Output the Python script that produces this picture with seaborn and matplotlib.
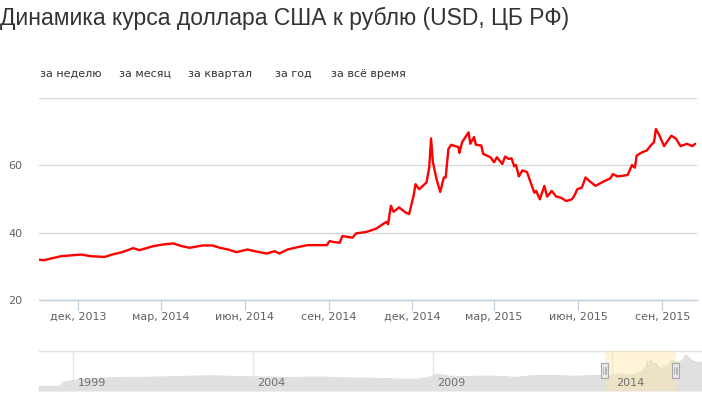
import pandas as pd
import numpy as np
import seaborn as sns
import matplotlib.pyplot as plt
import matplotlib.dates as mdates
from matplotlib.patches import Rectangle

title = "Динамика курса доллара США к рублю (USD, ЦБ РФ)"
buttons = ["за неделю", "за месяц", "за квартал", "за год", "за всё время"]

# main series
dates = ["2013-10-19", "2013-10-24", "2013-11-12", "2013-12-04", "2013-12-15", "2013-12-30",
         "2014-01-07", "2014-01-18", "2014-01-30", "2014-02-06", "2014-02-21", "2014-03-04",
         "2014-03-15", "2014-03-24", "2014-04-02", "2014-04-16", "2014-04-27", "2014-05-05",
         "2014-05-14", "2014-05-23", "2014-06-04", "2014-06-12", "2014-06-25", "2014-07-04",
         "2014-07-09", "2014-07-18", "2014-07-29", "2014-08-09", "2014-08-19", "2014-08-30",
         "2014-09-02", "2014-09-07", "2014-09-13", "2014-09-16", "2014-09-27", "2014-10-01",
         "2014-10-12", "2014-10-23", "2014-11-03", "2014-11-05", "2014-11-08", "2014-11-11",
         "2014-11-17", "2014-11-24", "2014-11-28", "2014-12-03", "2014-12-05", "2014-12-09",
         "2014-12-17", "2014-12-20", "2014-12-22", "2014-12-24", "2014-12-28", "2015-01-01",
         "2015-01-05", "2015-01-07", "2015-01-10", "2015-01-13", "2015-01-21", "2015-01-22",
         "2015-01-25", "2015-02-01", "2015-02-03", "2015-02-07", "2015-02-09", "2015-02-15",
         "2015-02-17", "2015-02-25", "2015-03-01", "2015-03-04", "2015-03-10", "2015-03-13",
         "2015-03-17", "2015-03-20", "2015-03-23", "2015-03-25", "2015-03-28", "2015-04-01",
         "2015-04-06", "2015-04-10", "2015-04-14", "2015-04-16", "2015-04-20", "2015-04-25",
         "2015-04-28", "2015-05-03", "2015-05-08", "2015-05-13", "2015-05-19", "2015-05-25",
         "2015-05-28", "2015-05-31", "2015-06-05", "2015-06-09", "2015-06-13", "2015-06-20",
         "2015-06-28", "2015-07-06", "2015-07-09", "2015-07-14", "2015-07-25", "2015-07-30",
         "2015-08-02", "2015-08-04", "2015-08-10", "2015-08-15", "2015-08-20", "2015-08-23",
         "2015-08-25", "2015-08-29", "2015-09-03", "2015-09-07", "2015-09-11", "2015-09-16",
         "2015-09-21", "2015-09-28", "2015-10-04", "2015-10-07"]
usd = [32.0, 31.8, 33.0, 33.5, 33.0, 32.8,
       33.5, 34.2, 35.4, 34.8, 36.0, 36.5,
       36.8, 36.0, 35.5, 36.2, 36.2, 35.5,
       35.0, 34.2, 35.0, 34.5, 33.8, 34.5,
       33.8, 35.0, 35.7, 36.3, 36.3, 36.3,
       37.5, 37.2, 37.0, 39.0, 38.5, 39.8,
       40.2, 41.2, 43.2, 42.5, 48.0, 46.2,
       47.5, 46.0, 45.5, 51.1, 54.4, 52.9,
       54.9, 59.4, 68.0, 60.9, 55.9, 52.1,
       56.4, 56.4, 64.9, 66.1, 65.4, 63.7,
       66.9, 69.8, 66.4, 68.4, 66.1, 65.9,
       63.4, 62.4, 60.9, 62.4, 60.4, 62.6,
       61.9, 62.1, 59.7, 60.1, 56.7, 58.5,
       58.0, 54.9, 51.9, 52.4, 49.9, 53.9,
       50.7, 52.4, 50.7, 50.4, 49.4, 49.9,
       51.1, 52.9, 53.4, 56.4, 55.4, 53.9,
       55.1, 56.1, 57.4, 56.7, 57.1, 60.1,
       59.3, 62.9, 63.9, 64.4, 66.1, 66.9,
       70.8, 68.8, 65.7, 67.3, 68.8, 67.9,
       65.7, 66.4, 65.7, 66.4]

tick_dates = ["2013-12-01", "2014-03-01", "2014-06-01", "2014-09-01",
              "2014-12-01", "2015-03-01", "2015-06-01", "2015-09-01"]
tick_labels = ["дек, 2013", "мар, 2014", "июн, 2014", "сен, 2014",
               "дек, 2014", "мар, 2015", "июн, 2015", "сен, 2015"]

# navigator: history before and after the visible window
hist_dates = ["1998-01-01", "1998-07-15", "1998-08-25", "1998-09-15", "1998-12-15", "1999-03-01",
              "1999-06-15", "1999-12-15", "2000-06-15", "2000-12-15", "2001-06-15", "2001-12-15",
              "2002-06-15", "2002-12-15", "2003-06-15", "2003-12-15", "2004-06-15", "2004-12-15",
              "2005-06-15", "2005-12-15", "2006-06-15", "2006-12-15", "2007-06-15", "2007-12-15",
              "2008-07-15", "2008-10-15", "2008-12-15", "2009-02-15", "2009-06-15", "2009-12-15",
              "2010-06-15", "2010-12-15", "2011-04-15", "2011-10-01", "2011-12-15", "2012-06-01",
              "2012-12-15", "2013-06-15", "2013-10-01"]
hist_usd = [6.0, 6.2, 7.5, 16.0, 20.6, 23.0,
            24.4, 27.0, 28.2, 28.2, 29.1, 30.1,
            31.4, 31.8, 30.3, 29.4, 29.0, 27.8,
            28.6, 28.8, 27.0, 26.3, 25.8, 24.5,
            23.4, 26.5, 29.4, 36.0, 31.0, 30.2,
            31.2, 30.5, 28.0, 32.0, 32.2, 32.8,
            30.7, 32.7, 32.3]
tail_dates = ["2015-11-15", "2015-12-20", "2016-01-21", "2016-02-15", "2016-03-20",
              "2016-05-01", "2016-06-20", "2016-07-10"]
tail_usd = [64.5, 71.0, 83.0, 77.0, 69.0, 65.5, 64.5, 64.0]
nav_years = ["1999", "2004", "2009", "2014"]

sns.set_style("white")
plt.rcParams["font.family"] = ["DejaVu Sans"]

W, H = 702, 394
fig = plt.figure(figsize=(W / 100, H / 100), dpi=100)

# main chart
ax = fig.add_axes([39 / W, 94 / H, 658 / W, 202 / H])
df = pd.DataFrame({"date": pd.to_datetime(dates), "usd": usd})
sns.lineplot(data=df, x="date", y="usd", ax=ax, color="#ff0000", linewidth=1.7)

x0, x1 = pd.Timestamp("2013-10-19"), pd.Timestamp("2015-10-09")
ax.set_xlim(x0, x1)
ax.set_ylim(20, 80)
ax.set_yticks([20, 40, 60, 80])
ax.set_yticklabels(["20", "40", "60", ""])
ax.set_xticks(pd.to_datetime(tick_dates))
ax.set_xticklabels(tick_labels)
ax.set_xlabel("")
ax.set_ylabel("")
ax.grid(axis="y", color="#d8d8d8", linewidth=1)
ax.grid(axis="x", visible=False)
for s in ["left", "right", "top"]:
    ax.spines[s].set_visible(False)
ax.spines["bottom"].set_color("#c0d0e0")
ax.spines["bottom"].set_linewidth(1)
ax.tick_params(axis="x", direction="out", length=7.5, width=0.9, color="#c0d0e0",
               labelcolor="#606060", labelsize=8, pad=1, bottom=True)
ax.tick_params(axis="y", length=0, labelcolor="#606060", labelsize=8, pad=12)

# title and range buttons
fig.text(0 / W, 1 - 18 / H, title, fontsize=16.5, family="Liberation Sans",
         color="#333333", ha="left", va="center")
button_x = [40, 119, 188, 275, 331]
for bx, b in zip(button_x, buttons):
    fig.text(bx / W, 1 - 74 / H, b, fontsize=8, color="#333333", ha="left", va="center")

# navigator
nav = fig.add_axes([39 / W, 3 / H, 663 / W, 40 / H])
nav_df = pd.DataFrame({"date": pd.to_datetime(hist_dates + dates + tail_dates),
                       "usd": hist_usd + usd + tail_usd})
nav.fill_between(nav_df["date"], nav_df["usd"], -5, color="#e0e0e0", linewidth=0, zorder=2)
sns.lineplot(data=nav_df, x="date", y="usd", ax=nav, color="#d6d6d6", linewidth=0.6, zorder=2)
nav.set_xlim(pd.Timestamp("1998-01-17"), pd.Timestamp("2016-07-03"))
nav.set_ylim(-5, 92)
nav.set_xticks([])
nav.set_yticks([])
nav.set_xlabel("")
nav.set_ylabel("")
for s in ["left", "right", "bottom"]:
    nav.spines[s].set_visible(False)
nav.spines["top"].set_color("#e0e0e0")
nav.spines["top"].set_linewidth(1)
nav.set_facecolor("none")
for yr in nav_years:
    d = pd.Timestamp(yr + "-01-01")
    nav.axvline(d, color="#e6e6e6", linewidth=1, zorder=1)
    nav.annotate(yr, xy=(d, 0.2), xycoords=("data", "axes fraction"), xytext=(3, 0),
                 textcoords="offset points", fontsize=8, color="#707070",
                 ha="left", va="center", zorder=4)
nav.axvspan(x0, x1, color="#ffe7a0", alpha=0.42, linewidth=0, zorder=3)

# range handles
fig.canvas.draw()
for d in [x0, x1]:
    px = nav.transData.transform((mdates.date2num(d), 0))[0]
    fig.add_artist(Rectangle(((px - 3.5) / W, (H - 378) / H), 7 / W, 15 / H,
                             transform=fig.transFigure, facecolor="#ebe7e8",
                             edgecolor="#a8a8a8", linewidth=0.8, zorder=5))
    for dx in [-1.5, 0, 1.5]:
        fig.add_artist(plt.Line2D([(px + dx) / W, (px + dx) / W],
                                  [(H - 374) / H, (H - 367) / H],
                                  transform=fig.transFigure, color="#a0a0a0",
                                  linewidth=0.5, zorder=6))

fig.savefig("out.png", dpi=100)
